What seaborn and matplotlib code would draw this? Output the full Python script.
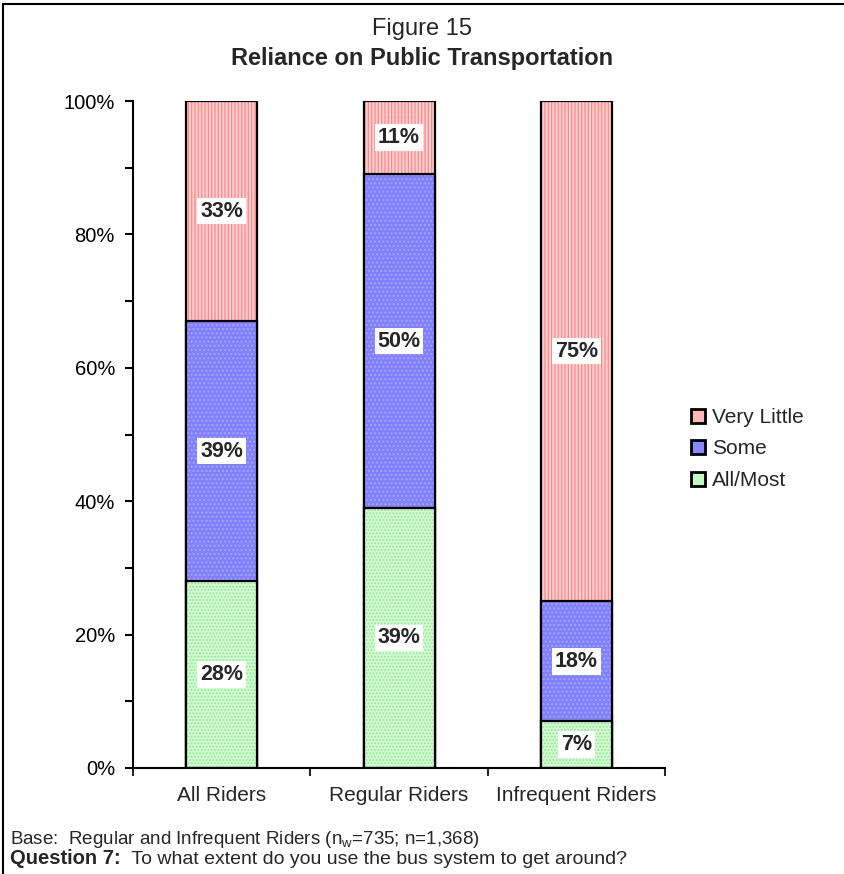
import matplotlib
matplotlib.use("Agg")
import matplotlib.pyplot as plt
import seaborn as sns
import pandas as pd
from matplotlib.patches import Patch
from matplotlib.lines import Line2D
from matplotlib.ticker import FixedLocator, PercentFormatter

groups = ["All Riders", "Regular Riders", "Infrequent Riders"]
all_most = [28, 39, 7]
some = [39, 50, 18]
very_little = [33, 11, 75]

sns.set_style("white")
plt.rcParams["font.family"] = ["Liberation Sans", "DejaVu Sans"]
plt.rcParams["hatch.linewidth"] = 1.0

df = pd.DataFrame({"group": groups, "all_most": all_most, "some": some, "very_little": very_little})
df["top_some"] = df["all_most"] + df["some"]
df["top_vl"] = df["top_some"] + df["very_little"]

fig = plt.figure(figsize=(8.44, 8.74), dpi=100)
ax = fig.add_axes([0.1576, 0.1213, 0.788 - 0.1576, 0.8844 - 0.1213])

# (column, face, hatch, hatch colour) drawn back to front as cumulative totals
layers = [
    ("top_vl", "#FFD2D2", "|||||", "#FF8C8C"),
    ("top_some", "#8080FF", "....", "#A8A8FF"),
    ("all_most", "#D2FFD2", ".....", "#98E498"),
]
bw = 0.40
for col, face, hatch, hcol in layers:
    n0 = len(ax.patches)
    sns.barplot(data=df, x="group", y=col, ax=ax, width=bw, color=face)
    for p in ax.patches[n0:]:
        p.set_facecolor(face)
        p.set_hatch(hatch)
        p.set_edgecolor(hcol)
        p.set_linewidth(0)
    n0 = len(ax.patches)
    sns.barplot(data=df, x="group", y=col, ax=ax, width=bw, color="white")
    for p in ax.patches[n0:]:
        p.set_facecolor("none")
        p.set_edgecolor("black")
        p.set_linewidth(1.6)

# segment labels
for i in range(len(groups)):
    segs = [(0, all_most[i]), (all_most[i], some[i]), (all_most[i] + some[i], very_little[i])]
    for base, v in segs:
        ax.text(i, base + v / 2, f"{v}%", ha="center", va="center", fontsize=15.5,
                fontweight="bold", bbox=dict(facecolor="white", edgecolor="none", pad=2))

ax.set_xlim(-0.5, 2.5)
ax.set_ylim(0, 100)
ax.set_xlabel("")
ax.set_ylabel("")
ax.yaxis.set_major_locator(FixedLocator([0, 20, 40, 60, 80, 100]))
ax.yaxis.set_minor_locator(FixedLocator([10, 30, 50, 70, 90]))
ax.yaxis.set_major_formatter(PercentFormatter(decimals=0))
ax.xaxis.set_minor_locator(FixedLocator([-0.5, 0.5, 1.5, 2.5]))
ax.tick_params(axis="y", which="both", direction="out", length=6, width=1.5,
               left=True, labelsize=14.5, pad=7, colors="black")
ax.tick_params(axis="x", which="major", length=0, labelsize=15, pad=13)
ax.tick_params(axis="x", which="minor", direction="out", length=6, width=1.5, bottom=True)
for s in ["top", "right"]:
    ax.spines[s].set_visible(False)
for s in ["left", "bottom"]:
    ax.spines[s].set_color("black")
    ax.spines[s].set_linewidth(1.5)

handles = [
    Patch(facecolor="#FFB8B8", edgecolor="black", linewidth=2, label="Very Little"),
    Patch(facecolor="#8888FF", edgecolor="black", linewidth=2, label="Some"),
    Patch(facecolor="#C6F6C6", edgecolor="black", linewidth=2, label="All/Most"),
]
fig.legend(handles=handles, loc="center left", bbox_to_anchor=(0.819, 0.4863),
           frameon=False, fontsize=15, handlelength=0.68, handleheight=0.68,
           handletextpad=0.3, labelspacing=0.6, borderpad=0, borderaxespad=0)

fig.text(0.5, 1 - 29 / 874, "Figure 15", ha="center", va="center", fontsize=17)
fig.text(0.5, 1 - 59 / 874, "Reliance on Public Transportation", ha="center", va="center",
         fontsize=17, fontweight="bold")

fig.text(0.012, 1 - 840 / 874, "Base:  Regular and Infrequent Riders (n$_\\mathregular{w}$=735; n=1,368)",
         ha="left", va="center", fontsize=13.5)
q = fig.text(0.012, 1 - 859 / 874, "Question 7:", ha="left", va="center", fontsize=14.5, fontweight="bold")
fig.canvas.draw()
bb = q.get_window_extent(fig.canvas.get_renderer())
fig.text(bb.x1 / fig.bbox.width, 1 - 859 / 874, "  To what extent do you use the bus system to get around?",
         ha="left", va="center", fontsize=14)

# outer frame (top and left edges)
fig.add_artist(Line2D([0.003, 1.0], [1 - 4 / 874, 1 - 4 / 874], color="black", lw=1.5))
fig.add_artist(Line2D([0.003, 0.003], [0.0, 1 - 4 / 874], color="black", lw=1.5))

fig.savefig("out.png", dpi=100)
